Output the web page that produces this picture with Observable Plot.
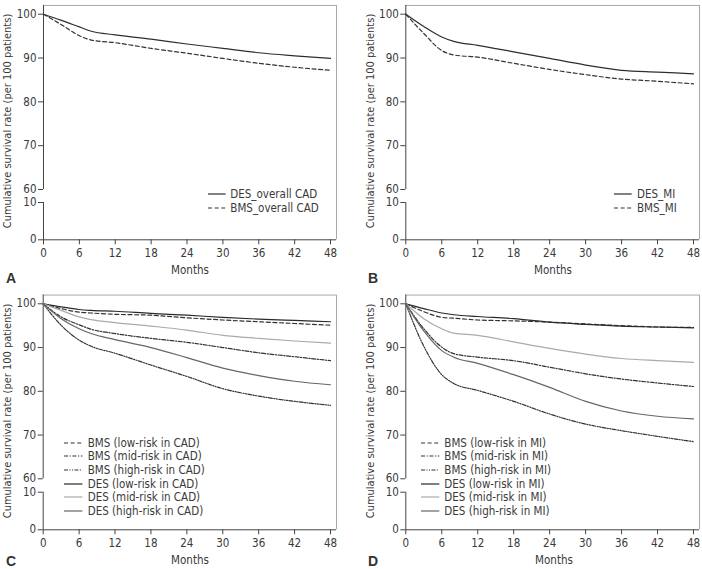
<!DOCTYPE html>
<html>
<head>
<meta charset="utf-8">
<script src="https://cdn.jsdelivr.net/npm/d3@7"></script>
<script src="https://cdn.jsdelivr.net/npm/@observablehq/plot@0.6"></script>
<style>
  html, body { margin: 0; padding: 0; background: #fff; }
  #figure { position: relative; width: 702px; height: 569px; overflow: hidden;
    font-family: 'Liberation Sans Narrow', 'DejaVu Sans Condensed', 'Roboto Condensed', 'Liberation Sans', Arial, sans-serif;
    color: #3a3a3a; }
  .panel { position: absolute; }
  .ytitle { position: absolute; width: 220px; text-align: center; font-size: 11px; white-space: nowrap;
    transform: translate(-50%, -50%) rotate(-90deg); }
  .xtitle { position: absolute; font-size: 11.5px; transform: translate(-50%, -50%); white-space: nowrap; }
  .letter { position: absolute; font-weight: bold; font-size: 14px; line-height: 14px; color: #333; font-family: 'Liberation Sans', Arial, sans-serif; }
  .legend { position: absolute; font-size: 11.5px; }
  .legend .row { position: absolute; display: flex; align-items: center; white-space: nowrap; transform: translateY(-50%); }
  .legend svg { margin-right: 5px; overflow: visible; }
</style>
</head>
<body>
<div id="figure"></div>
<script>
// Follow-up grid (months) shared by every curve
const months = [0, 3, 6, 8, 12, 18, 24, 30, 36, 42, 48];
const xTicks = [0, 6, 12, 18, 24, 30, 36, 42, 48];
const yTicks = [0, 10, 60, 70, 80, 90, 100];

// Panel A: overall CAD
const desOverallCAD = [100, 98.6, 97.1, 96.1, 95.3, 94.3, 93.2, 92.2, 91.2, 90.5, 89.9];
const bmsOverallCAD = [100, 97.6, 95.1, 94.1, 93.5, 92.2, 91.1, 89.9, 88.8, 87.9, 87.2];

// Panel B: MI
const desMI = [100, 97.2, 94.8, 93.8, 92.9, 91.4, 89.9, 88.4, 87.2, 86.8, 86.4];
const bmsMI = [100, 95.6, 91.7, 90.7, 90.2, 88.8, 87.4, 86.2, 85.2, 84.7, 84.1];

// Panel C: risk groups in CAD
const bmsLowCAD  = [100, 98.9, 98.1, 97.9, 97.6, 97.4, 96.8, 96.3, 95.9, 95.5, 95.1];
const bmsMidCAD  = [100, 97.0, 95.2, 94.2, 93.2, 92.1, 91.2, 90.0, 88.8, 87.9, 87.0];
const bmsHighCAD = [100, 95.1, 91.7, 90.3, 88.7, 86.0, 83.4, 80.6, 78.9, 77.7, 76.8];
const desLowCAD  = [100, 99.3, 98.7, 98.5, 98.3, 97.8, 97.4, 96.9, 96.5, 96.2, 95.9];
const desMidCAD  = [100, 98.5, 97.0, 96.4, 95.7, 94.9, 94.0, 92.8, 92.1, 91.5, 91.0];
const desHighCAD = [100, 96.6, 94.3, 93.2, 91.8, 90.0, 87.7, 85.3, 83.6, 82.3, 81.5];

// Panel D: risk groups in MI
const bmsLowMI  = [100, 98.2, 96.9, 96.7, 96.3, 96.1, 95.8, 95.4, 95.0, 94.7, 94.6];
const bmsMidMI  = [100, 94.3, 90.1, 88.6, 87.8, 87.0, 85.5, 84.0, 82.8, 81.9, 81.1];
const bmsHighMI = [100, 90.3, 83.8, 81.8, 80.2, 77.7, 74.8, 72.5, 71.0, 69.7, 68.5];
const desLowMI  = [100, 98.9, 97.9, 97.5, 97.1, 96.6, 95.8, 95.3, 94.9, 94.7, 94.5];
const desMidMI  = [100, 96.6, 94.3, 93.3, 92.8, 91.3, 89.8, 88.5, 87.5, 87.0, 86.6];
const desHighMI = [100, 93.8, 89.3, 87.8, 86.4, 83.8, 80.9, 77.7, 75.5, 74.3, 73.7];

// Line styles
const styles = {
  desSolid: {stroke: "#2e2e2e", dash: null},
  bmsDash:  {stroke: "#333", dash: "4,2.6"},
  bmsLow:   {stroke: "#333", dash: "4,2.6"},
  bmsMid:   {stroke: "#333", dash: "4,1.6,1.2,1.6"},
  bmsHigh:  {stroke: "#333", dash: "4,1.4,1.1,1.4,1.1,1.4"},
  desLow:   {stroke: "#2a2a2a", dash: null},
  desMid:   {stroke: "#aaaaaa", dash: null},
  desHigh:  {stroke: "#666666", dash: null}
};

const panels = [
  {letter: "A", left: 0, top: 0, height: 285, ml: 43, mr: 15, y: [239.3, 202, 189, 13.7],
   series: [["DES_overall CAD", desOverallCAD, "desSolid"], ["BMS_overall CAD", bmsOverallCAD, "bmsDash"]],
   legend: {x: 207.7, y: 194.3, len: 17.6, step: 14},
   letterPos: [6, 271], xtitle: [190, 270], ytitle: [7, 121]},
  {letter: "B", left: 351, top: 0, height: 285, ml: 54.3, mr: 3, y: [239.3, 202, 189, 13.7],
   series: [["DES_MI", desMI, "desSolid"], ["BMS_MI", bmsMI, "bmsDash"]],
   legend: {x: 614.3, y: 194.3, len: 17.7, step: 14},
   letterPos: [368, 271], xtitle: [553, 270], ytitle: [370, 121]},
  {letter: "C", left: 0, top: 285, height: 284, ml: 42.7, mr: 15, y: [244.3, 206.7, 193.3, 18.3],
   series: [["BMS (low-risk in CAD)", bmsLowCAD, "bmsLow"], ["BMS (mid-risk in CAD)", bmsMidCAD, "bmsMid"],
            ["BMS (high-risk in CAD)", bmsHighCAD, "bmsHigh"], ["DES (low-risk in CAD)", desLowCAD, "desLow"],
            ["DES (mid-risk in CAD)", desMidCAD, "desMid"], ["DES (high-risk in CAD)", desHighCAD, "desHigh"]],
   legend: {x: 64.3, y: 442.7, len: 18.4, step: 13.6},
   letterPos: [6, 554], xtitle: [190, 560], ytitle: [7, 411]},
  {letter: "D", left: 351, top: 285, height: 284, ml: 54.3, mr: 3, y: [244.3, 206.7, 193.3, 18.3],
   series: [["BMS (low-risk in MI)", bmsLowMI, "bmsLow"], ["BMS (mid-risk in MI)", bmsMidMI, "bmsMid"],
            ["BMS (high-risk in MI)", bmsHighMI, "bmsHigh"], ["DES (low-risk in MI)", desLowMI, "desLow"],
            ["DES (mid-risk in MI)", desMidMI, "desMid"], ["DES (high-risk in MI)", desHighMI, "desHigh"]],
   legend: {x: 421, y: 442.7, len: 18.3, step: 13.6},
   letterPos: [368, 554], xtitle: [554, 560], ytitle: [370, 411]}
];

// Broken y axis: segments drawn for each part of the scale
const yTop = 102;
const axisSegments = [{y1: 0, y2: 10}, {y1: 60, y2: yTop}];

const fig = document.getElementById("figure");
const FONT = "'Liberation Sans Narrow', 'DejaVu Sans Condensed', 'Roboto Condensed', 'Liberation Sans', Arial, sans-serif";

for (const p of panels) {
  const [y0, y10, y60, y100] = p.y;
  const yTopPx = y100 - (yTop - 100) * (y60 - y100) / 40;
  const lineMarks = p.series.map(([name, vals, key]) =>
    Plot.line(months.map((m, i) => ({month: m, value: vals[i]})), {
      x: "month", y: "value", curve: "monotone-x",
      stroke: styles[key].stroke, strokeWidth: 1.2,
      strokeDasharray: styles[key].dash ?? undefined
    })
  );
  const chart = Plot.plot({
    width: 351,
    height: p.height,
    marginLeft: p.ml,
    marginRight: p.mr,
    marginTop: yTopPx,
    marginBottom: p.height - y0,
    style: {fontFamily: FONT, fontSize: "11.5px", color: "#3a3a3a", background: "transparent", overflow: "visible"},
    x: {domain: [0, 49]},
    y: {type: "linear", domain: [0, 10, 60, yTop], range: [y0, y10, y60, yTopPx]},
    marks: [
      Plot.ruleY([yTop], {stroke: "#a8a8a8", strokeWidth: 1}),
      Plot.ruleX([49], {stroke: "#a8a8a8", strokeWidth: 1}),
      ...axisSegments.map(s => Plot.ruleX([0], {y1: s.y1, y2: s.y2, stroke: "#444", strokeWidth: 1})),
      Plot.ruleY([0], {stroke: "#444", strokeWidth: 1}),
      Plot.axisY(yTicks, {tickSize: 5, tickPadding: 2, label: null, stroke: "#444"}),
      Plot.axisX(xTicks, {tickSize: 5, tickPadding: 4, label: null, stroke: "#444"}),
      ...lineMarks
    ]
  });
  const holder = document.createElement("div");
  holder.className = "panel";
  holder.style.left = p.left + "px";
  holder.style.top = p.top + "px";
  holder.appendChild(chart);
  fig.appendChild(holder);

  // Axis titles and panel letter
  const yt = document.createElement("div");
  yt.className = "ytitle";
  yt.style.left = p.ytitle[0] + "px";
  yt.style.top = p.ytitle[1] + "px";
  yt.textContent = "Cumulative survival rate (per 100 patients)";
  fig.appendChild(yt);

  const xt = document.createElement("div");
  xt.className = "xtitle";
  xt.style.left = p.xtitle[0] + "px";
  xt.style.top = p.xtitle[1] + "px";
  xt.textContent = "Months";
  fig.appendChild(xt);

  const lt = document.createElement("div");
  lt.className = "letter";
  lt.style.left = p.letterPos[0] + "px";
  lt.style.top = p.letterPos[1] + "px";
  lt.textContent = p.letter;
  fig.appendChild(lt);

  // Legend
  const lg = document.createElement("div");
  lg.className = "legend";
  p.series.forEach(([name, , key], i) => {
    const row = document.createElement("div");
    row.className = "row";
    row.style.left = p.legend.x + "px";
    row.style.top = (p.legend.y + i * p.legend.step) + "px";
    const s = styles[key];
    const len = p.legend.len;
    row.innerHTML = `<svg width="${len}" height="4"><line x1="0" x2="${len}" y1="2" y2="2" stroke="${s.stroke}" stroke-width="1.2" ${s.dash ? `stroke-dasharray="${s.dash}"` : ""}/></svg><span>${name}</span>`;
    lg.appendChild(row);
  });
  fig.appendChild(lg);
}
</script>
</body>
</html>
